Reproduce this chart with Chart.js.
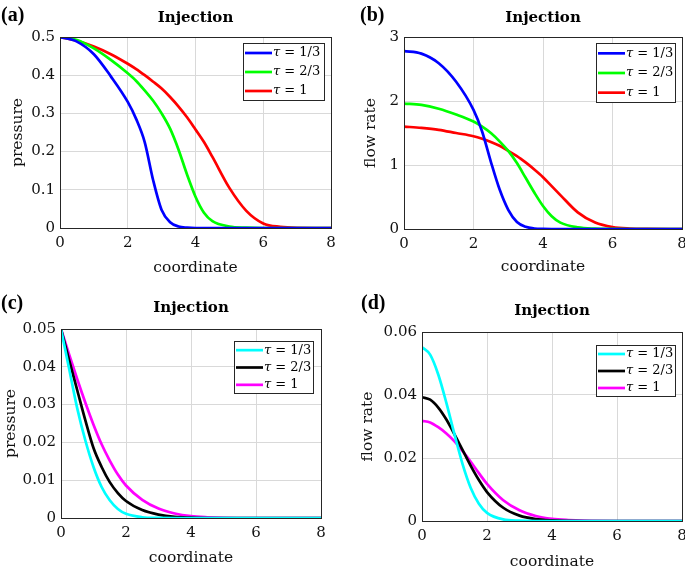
<!DOCTYPE html>
<html>
<head>
<meta charset="utf-8">
<script src="https://cdn.jsdelivr.net/npm/chart.js@4.4.1/dist/chart.umd.min.js"></script>
<style>
    html, body { margin: 0; padding: 0; background: #fff; width: 685px; height: 566px; overflow: hidden; }
    canvas { position: absolute; }
</style>
</head>
<body>
<canvas id="chartA" width="342" height="280" style="left:0;top:0"></canvas>
<canvas id="chartB" width="343" height="280" style="left:342px;top:0"></canvas>
<canvas id="chartC" width="342" height="286" style="left:0;top:280px"></canvas>
<canvas id="chartD" width="343" height="286" style="left:342px;top:280px"></canvas>
<script>
// ─── DATA ────────────────────────────────────────────────────

const seriesLabels = ['τ = 1/3', 'τ = 2/3', 'τ = 1'];

// top row: coordinate samples
const coordTop = [0, 0.5, 1, 1.5, 2, 2.25, 2.5, 2.75, 3, 3.25, 3.5, 3.75, 4, 4.25, 4.5, 5, 5.5, 6, 6.5, 7, 8];

// (a) pressure
const pressTop1 = [0.5, 0.488, 0.455, 0.397, 0.33, 0.285, 0.225, 0.125, 0.047, 0.015, 0.004, 0.001, 0, 0, 0, 0, 0, 0, 0, 0, 0];
const pressTop2 = [0.5, 0.492, 0.47, 0.44, 0.405, 0.385, 0.36, 0.333, 0.30, 0.26, 0.205, 0.14, 0.082, 0.04, 0.018, 0.004, 0.001, 0, 0, 0, 0];
const pressTop3 = [0.5, 0.49, 0.475, 0.455, 0.43, 0.416, 0.4, 0.383, 0.365, 0.343, 0.318, 0.29, 0.258, 0.225, 0.186, 0.105, 0.045, 0.012, 0.003, 0.0005, 0];

// (b) flow rate
const flowTop1 = [2.78, 2.74, 2.59, 2.30, 1.86, 1.52, 1.05, 0.62, 0.3, 0.11, 0.035, 0.008, 0.001, 0, 0, 0, 0, 0, 0, 0, 0];
const flowTop2 = [1.96, 1.94, 1.88, 1.79, 1.68, 1.6, 1.5, 1.37, 1.22, 1.03, 0.8, 0.57, 0.36, 0.2, 0.1, 0.025, 0.005, 0.001, 0, 0, 0];
const flowTop3 = [1.6, 1.58, 1.55, 1.5, 1.45, 1.41, 1.36, 1.3, 1.22, 1.14, 1.04, 0.93, 0.81, 0.67, 0.53, 0.26, 0.1, 0.03, 0.008, 0.002, 0];

// bottom row: coordinate samples
const coordBot = [0, 0.25, 0.5, 0.75, 1, 1.25, 1.5, 1.75, 2, 2.5, 3, 3.5, 4, 4.5, 5, 6, 7, 8];

// (c) pressure
const pressBot1 = [0.05, 0.0395, 0.029, 0.0205, 0.0135, 0.0082, 0.0047, 0.0024, 0.0011, 0.0002, 0.00003, 0, 0, 0, 0, 0, 0, 0];
const pressBot2 = [0.05, 0.0418, 0.0338, 0.0258, 0.0185, 0.0135, 0.0095, 0.0066, 0.0045, 0.0021, 0.0009, 0.0003, 0.0001, 0, 0, 0, 0, 0];
const pressBot3 = [0.05, 0.0433, 0.0367, 0.0305, 0.0247, 0.0195, 0.0152, 0.0115, 0.0086, 0.0048, 0.0025, 0.0012, 0.0005, 0.0002, 0.00005, 0, 0, 0];

// (d) flow rate
const flowBot1 = [0.0552, 0.0528, 0.0465, 0.0375, 0.0275, 0.018, 0.0105, 0.0055, 0.0026, 0.0005, 0.0001, 0, 0, 0, 0, 0, 0, 0];
const flowBot2 = [0.0393, 0.0385, 0.036, 0.0322, 0.0275, 0.0225, 0.0175, 0.013, 0.0092, 0.0042, 0.0017, 0.0006, 0.0002, 0.00005, 0, 0, 0, 0];
const flowBot3 = [0.0318, 0.0313, 0.0298, 0.0278, 0.0253, 0.0222, 0.0188, 0.0152, 0.0118, 0.0066, 0.0034, 0.0016, 0.0007, 0.0003, 0.0001, 0, 0, 0];

const colorsTop = ['#0000ff', '#00ff00', '#ff0000'];
const colorsBot = ['#00ffff', '#000000', '#ff00ff'];


// ─── GLOBAL LOOK ─────────────────────────────────────────────

Chart.defaults.font.family = "'DejaVu Serif', serif";
Chart.defaults.color = '#111';

const AXIS_COLOR = '#262626';
const GRID_COLOR = '#d9d9d9';


/**
 * Draws the closed axes box, the "(a)" style tag and the boxed legend
 * inside the plot area (MATLAB style).
 */
const panelDecor = {
    id: 'panelDecor',
    afterDraw(chart, args, o) {
        const { ctx, chartArea: a } = chart;
        ctx.save();

        // full box round the plot
        ctx.strokeStyle = AXIS_COLOR;
        ctx.lineWidth = 1;
        ctx.strokeRect(Math.round(a.left) + 0.5, Math.round(a.top) + 0.5,
            Math.round(a.right - a.left), Math.round(a.bottom - a.top));

        // legend
        const lg = o.legend;
        const bx = Math.round(a.right - lg.inR - lg.w);
        const by = Math.round(a.top + lg.inT);
        ctx.fillStyle = '#fff';
        ctx.fillRect(bx, by, lg.w, lg.h);
        ctx.strokeRect(bx + 0.5, by + 0.5, lg.w, lg.h);

        const rowH = lg.h / 3;
        chart.data.datasets.forEach((ds, i) => {
            const cy = by + rowH * (i + 0.5) + 0.5;
            ctx.strokeStyle = ds.borderColor;
            ctx.lineWidth = 2.7;
            ctx.beginPath();
            ctx.moveTo(bx + 2, cy);
            ctx.lineTo(bx + 29, cy);
            ctx.stroke();

            ctx.fillStyle = '#000';
            ctx.textBaseline = 'middle';
            ctx.font = "italic 13px 'DejaVu Serif'";
            ctx.fillText(ds.label.charAt(0), bx + 30, cy);
            const w = ctx.measureText(ds.label.charAt(0)).width;
            ctx.font = "13px 'DejaVu Serif'";
            ctx.fillText(ds.label.slice(1), bx + 30 + w, cy);
        });

        // panel tag
        ctx.fillStyle = '#000';
        ctx.textBaseline = 'alphabetic';
        ctx.font = "bold 20px 'Liberation Serif'";
        ctx.fillText(o.tag.text, o.tag.x, o.tag.y);

        ctx.restore();
    }
};


/**
 * Builds one of the four panels.
 * p.plot gives the wanted plot area inside the canvas, the axis sizes are forced to it.
 */
function makePanel(p) {
    const canvas = document.getElementById(p.id);
    const W = canvas.width, H = canvas.height;

    new Chart(canvas, {
        type: 'line',
        data: {
            datasets: p.values.map((vals, i) => ({
                label: seriesLabels[i],
                data: p.xs.map((x, k) => ({ x, y: vals[k] })),
                borderColor: p.colors[i],
                borderWidth: 2.7,
                pointRadius: 0,
                fill: false,
                cubicInterpolationMode: 'monotone'
            }))
        },
        options: {
            responsive: false,
            animation: false,
            devicePixelRatio: 1,
            layout: { padding: { left: 0, top: 0, right: W - p.plot.r, bottom: 0 } },
            plugins: {
                legend: { display: false },
                tooltip: { enabled: false },
                title: {
                    display: true,
                    text: 'Injection',
                    fullSize: false,
                    color: '#000',
                    font: { size: 15, weight: 'bold' },
                    padding: { top: p.titleTop, bottom: p.plot.t - 18 - p.titleTop }
                },
                panelDecor: { legend: p.legend, tag: p.tag }
            },
            scales: {
                x: {
                    type: 'linear',
                    min: 0,
                    max: 8,
                    ticks: { stepSize: 2, padding: 6, color: '#111', font: { size: 15 } },
                    grid: { color: GRID_COLOR, drawTicks: false },
                    border: { color: AXIS_COLOR },
                    title: {
                        display: true,
                        text: 'coordinate',
                        color: '#111',
                        font: { size: 15.5 },
                        padding: { top: 0, bottom: p.xTitlePad }
                    },
                    afterFit(s) {
                        s.height = H - p.plot.b;
                        s.paddingLeft = 0;
                        s.paddingRight = 0;
                    }
                },
                y: {
                    min: 0,
                    max: p.yMax,
                    ticks: { stepSize: p.yStep, padding: 5, color: '#111', font: { size: 15 } },
                    grid: { color: GRID_COLOR, drawTicks: false },
                    border: { color: AXIS_COLOR },
                    title: {
                        display: true,
                        text: p.yTitle,
                        color: '#111',
                        font: { size: 15.5 },
                        padding: { top: p.yTitlePad, bottom: 0 }
                    },
                    afterFit(s) {
                        s.width = p.plot.l;
                        s.paddingTop = 0;
                        s.paddingBottom = 0;
                    }
                }
            }
        },
        plugins: [panelDecor]
    });
}


// ─── PANELS ──────────────────────────────────────────────────

makePanel({
    id: 'chartA', xs: coordTop, values: [pressTop1, pressTop2, pressTop3], colors: colorsTop,
    yTitle: 'pressure', yMax: 0.5, yStep: 0.1,
    plot: { l: 60, t: 37, r: 331, b: 228 },
    titleTop: 9, yTitlePad: 9, xTitlePad: 3,
    legend: { inR: 7, inT: 6, w: 81, h: 57 },
    tag: { text: '(a)', x: 1, y: 21 }
});

makePanel({
    id: 'chartB', xs: coordTop, values: [flowTop1, flowTop2, flowTop3], colors: colorsTop,
    yTitle: 'flow rate', yMax: 3, yStep: 1,
    plot: { l: 62, t: 37, r: 340, b: 229 },
    titleTop: 9, yTitlePad: 20, xTitlePad: 4,
    legend: { inR: 7, inT: 6, w: 79, h: 59 },
    tag: { text: '(b)', x: 18, y: 21 }
});

makePanel({
    id: 'chartC', xs: coordBot, values: [pressBot1, pressBot2, pressBot3], colors: colorsBot,
    yTitle: 'pressure', yMax: 0.05, yStep: 0.01,
    plot: { l: 61, t: 49, r: 321, b: 238 },
    titleTop: 19.5, yTitlePad: 1.5, xTitlePad: -1,
    legend: { inR: 8, inT: 12, w: 79, h: 52 },
    tag: { text: '(c)', x: 1, y: 29 }
});

makePanel({
    id: 'chartD', xs: coordBot, values: [flowBot1, flowBot2, flowBot3], colors: colorsBot,
    yTitle: 'flow rate', yMax: 0.06, yStep: 0.02,
    plot: { l: 80, t: 52, r: 340, b: 241 },
    titleTop: 22.5, yTitlePad: 16.5, xTitlePad: -5,
    legend: { inR: 7, inT: 13, w: 79, h: 51 },
    tag: { text: '(d)', x: 19, y: 29 }
});
</script>
</body>
</html>
